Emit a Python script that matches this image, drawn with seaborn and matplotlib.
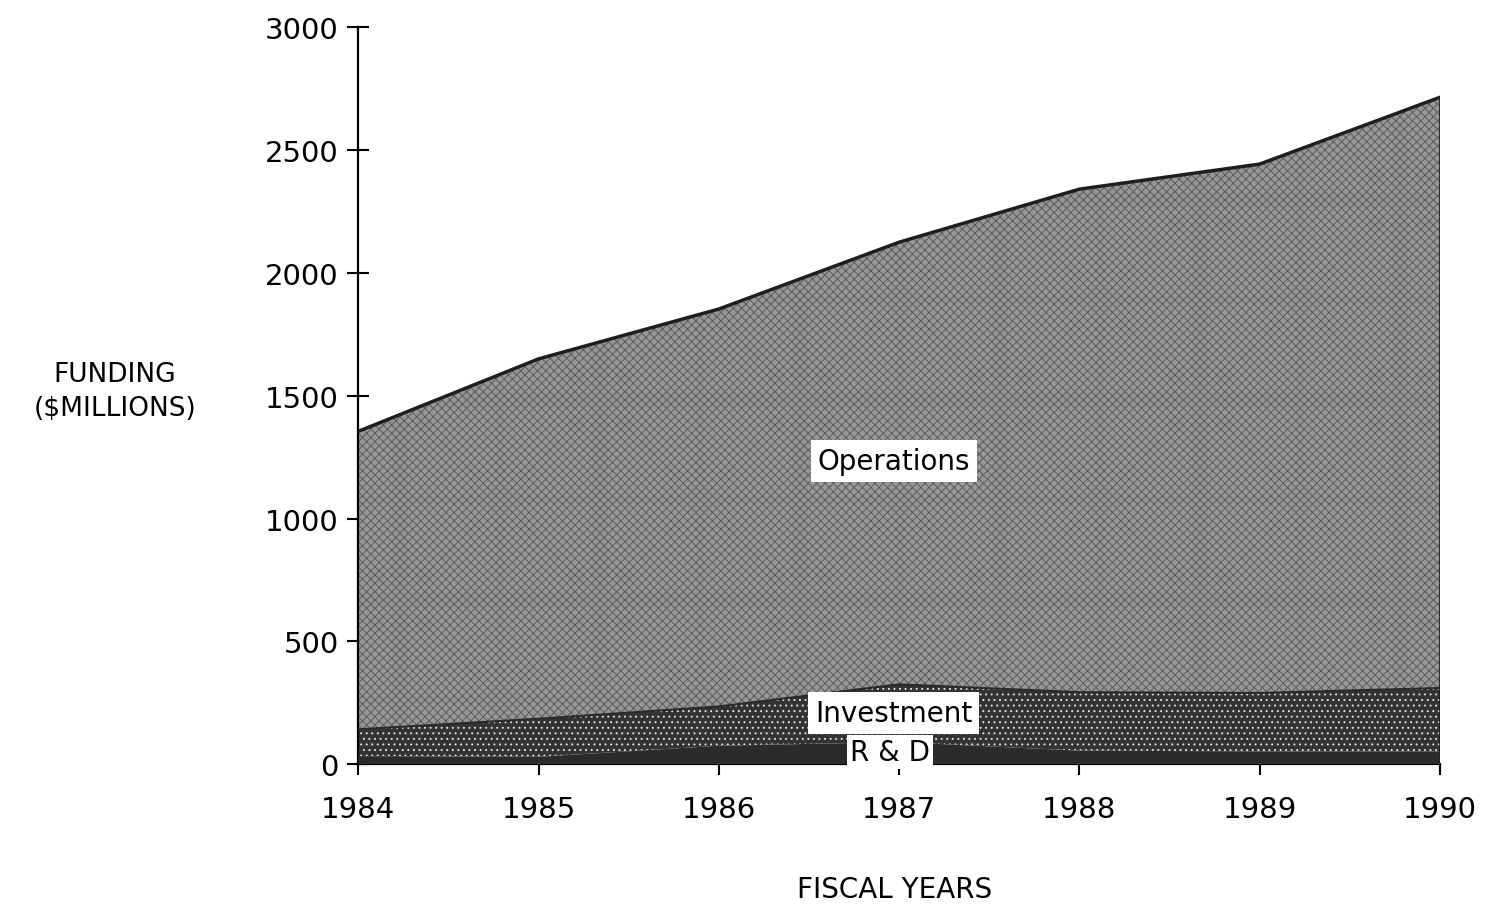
import numpy as np
import pandas as pd
import matplotlib
matplotlib.use('Agg')
import matplotlib.pyplot as plt
import seaborn as sns

# values ($ millions, layer thickness)
years = [1984, 1985, 1986, 1987, 1988, 1989, 1990]
rd = [33, 30, 75, 90, 55, 52, 52]
investment = [109, 155, 160, 235, 238, 238, 258]
operations = [1213, 1465, 1618, 1800, 2048, 2153, 2405]
y_ticks = [0, 500, 1000, 1500, 2000, 2500, 3000]

sns.set_style('ticks')
plt.rcParams['font.family'] = ['DejaVu Sans']
plt.rcParams['hatch.linewidth'] = 0.7
plt.rcParams['text.color'] = 'black'
plt.rcParams['xtick.color'] = 'black'
plt.rcParams['ytick.color'] = 'black'
plt.rcParams['axes.edgecolor'] = 'black'

df = pd.DataFrame({'year': years, 'rd': rd, 'inv': investment, 'ops': operations})
df['rd_top'] = df['rd']
df['inv_top'] = df['rd_top'] + df['inv']
df['ops_top'] = df['inv_top'] + df['ops']

fig = plt.figure(figsize=(14.93, 9.12), dpi=100)
ax = fig.add_axes([0.24, 0.161, 0.7245, 0.808])

# Operations layer
ax.fill_between(df.year, df.inv_top, df.ops_top, facecolor='#979797', edgecolor='none', zorder=1)
ax.fill_between(df.year, df.inv_top, df.ops_top, facecolor='none', edgecolor='#5a5a5a',
                hatch='xxxx', linewidth=0, zorder=1)
# Investment layer
ax.fill_between(df.year, df.rd_top, df.inv_top, facecolor='#333333', edgecolor='none', zorder=2)
ax.fill_between(df.year, df.rd_top, df.inv_top, facecolor='none', edgecolor='#e0e0e0',
                hatch='...', linewidth=0, zorder=2)
# R & D layer
ax.fill_between(df.year, 0, df.rd_top, facecolor='#2b2b2b', edgecolor='none', zorder=3)

sns.lineplot(data=df, x='year', y='ops_top', color='#1e1e1e', lw=2.5, ax=ax, zorder=4)
sns.lineplot(data=df, x='year', y='inv_top', color='#2a2a2a', lw=1.5, ax=ax, zorder=4)
ax.plot([years[-1], years[-1]], [0, df.ops_top.iloc[-1]], color='#1e1e1e', lw=2, zorder=4)

ax.set_xlim(1984, 1990)
ax.set_ylim(0, 3000)
ax.set_xticks(years)
ax.set_yticks(y_ticks)
ax.set_xlabel('')
ax.set_ylabel('')
ax.tick_params(axis='y', direction='inout', length=16, width=1.5, pad=6, labelsize=21)
ax.tick_params(axis='x', direction='out', length=8, width=1.5, pad=14, labelsize=21)
sns.despine(ax=ax)
ax.spines['left'].set_linewidth(1.6)
ax.spines['bottom'].set_linewidth(1.6)

box = dict(boxstyle='square,pad=0.25', facecolor='white', edgecolor='none')
ax.text(1986.97, 1235, 'Operations', ha='center', va='center', fontsize=20, bbox=box, zorder=6)
ax.text(1986.97, 210, 'Investment', ha='center', va='center', fontsize=20, bbox=box, zorder=6)
ax.text(1986.95, 50, 'R & D', ha='center', va='center', fontsize=20,
        bbox=dict(boxstyle='square,pad=0.12', facecolor='white', edgecolor='none'), zorder=5)

fig.text(115 / 1493, 1 - 392 / 912, 'FUNDING\n($MILLIONS)', ha='center', va='center',
         fontsize=19, linespacing=1.4)
fig.text(895 / 1493, 1 - 890 / 912, 'FISCAL YEARS', ha='center', va='center', fontsize=20)

fig.savefig('out.png', dpi=100)
